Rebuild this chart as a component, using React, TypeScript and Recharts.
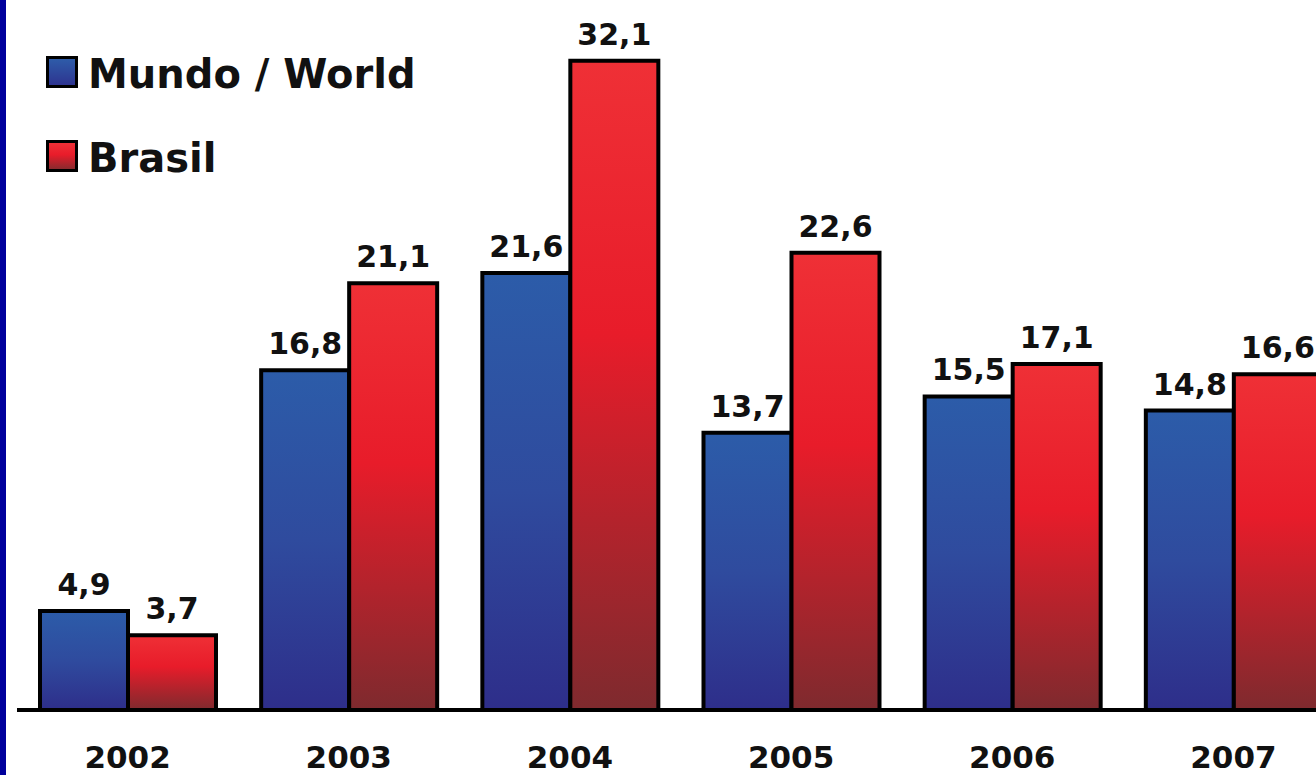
import React from 'react';
import { BarChart, Bar, XAxis, YAxis, LabelList } from 'recharts';

const years = ['2002', '2003', '2004', '2005', '2006', '2007'];
const mundo = [4.9, 16.8, 21.6, 13.7, 15.5, 14.8];
const brasil = [3.7, 21.1, 32.1, 22.6, 17.1, 16.6];

const seriesNames = { mundo: 'Mundo / World', brasil: 'Brasil' };

const data = years.map((year, i) => ({ year, mundo: mundo[i], brasil: brasil[i] }));

const FONT = '"DejaVu Sans", Verdana, sans-serif';

const fmt = (v: any) => String(v).replace('.', ',');

function LegendBox() {
  const row = (grad: string, text: string, mt: number) => (
    <div style={{ display: 'flex', alignItems: 'center', marginTop: mt, height: 32 }}>
      <div style={{ width: 26, height: 26, border: '3px solid #000', background: grad }} />
      <span style={{ marginLeft: 10, fontFamily: FONT, fontWeight: 'bold', fontSize: 40, lineHeight: '32px', color: '#111', position: 'relative', top: 2 }}>
        {text}
      </span>
    </div>
  );
  return (
    <div style={{ position: 'absolute', left: 46, top: 56, zIndex: 2 }}>
      {row('linear-gradient(#2e5ca9, #2e3490)', seriesNames.mundo, 0)}
      {row('linear-gradient(#f03037, #e81c2a 45%, #8a2a2e)', seriesNames.brasil, 52)}
    </div>
  );
}

export default function App() {
  return (
    <div style={{ position: 'absolute', left: 0, top: 0, width: 1316, height: 775, overflow: 'hidden', background: '#fff' }}>
      <div style={{ position: 'absolute', left: 0, top: 0, width: 6, height: 775, background: '#00009c', zIndex: 2 }} />
      <LegendBox />
      <BarChart
        width={1344}
        height={775}
        data={data}
        margin={{ top: 2, right: 0, bottom: 0, left: 17 }}
        barGap={0}
        barSize={88}
      >
        <defs>
          <linearGradient id="gBlue" x1="0" y1="0" x2="0" y2="1">
            <stop offset="0%" stopColor="#2c5ca9" />
            <stop offset="50%" stopColor="#2f4b9e" />
            <stop offset="100%" stopColor="#2e2e8a" />
          </linearGradient>
          <linearGradient id="gRed" x1="0" y1="0" x2="0" y2="1">
            <stop offset="0%" stopColor="#ef3036" />
            <stop offset="42%" stopColor="#e81c2a" />
            <stop offset="100%" stopColor="#7e2a2e" />
          </linearGradient>
        </defs>
        <XAxis
          dataKey="year"
          height={65}
          axisLine={{ stroke: '#000', strokeWidth: 4 }}
          tickLine={false}
          tickMargin={30}
          tick={{ fill: '#111', fontSize: 31, fontWeight: 'bold', fontFamily: FONT }}
        />
        <YAxis hide domain={[0, 35]} />
        <Bar dataKey="mundo" name={seriesNames.mundo} fill="url(#gBlue)" stroke="#000" strokeWidth={4} isAnimationActive={false}>
          <LabelList dataKey="mundo" position="top" offset={16} formatter={fmt} style={{ fill: '#111', fontSize: 30, fontWeight: 'bold', fontFamily: FONT }} />
        </Bar>
        <Bar dataKey="brasil" name={seriesNames.brasil} fill="url(#gRed)" stroke="#000" strokeWidth={4} isAnimationActive={false}>
          <LabelList dataKey="brasil" position="top" offset={16} formatter={fmt} style={{ fill: '#111', fontSize: 30, fontWeight: 'bold', fontFamily: FONT }} />
        </Bar>
      </BarChart>
    </div>
  );
}
